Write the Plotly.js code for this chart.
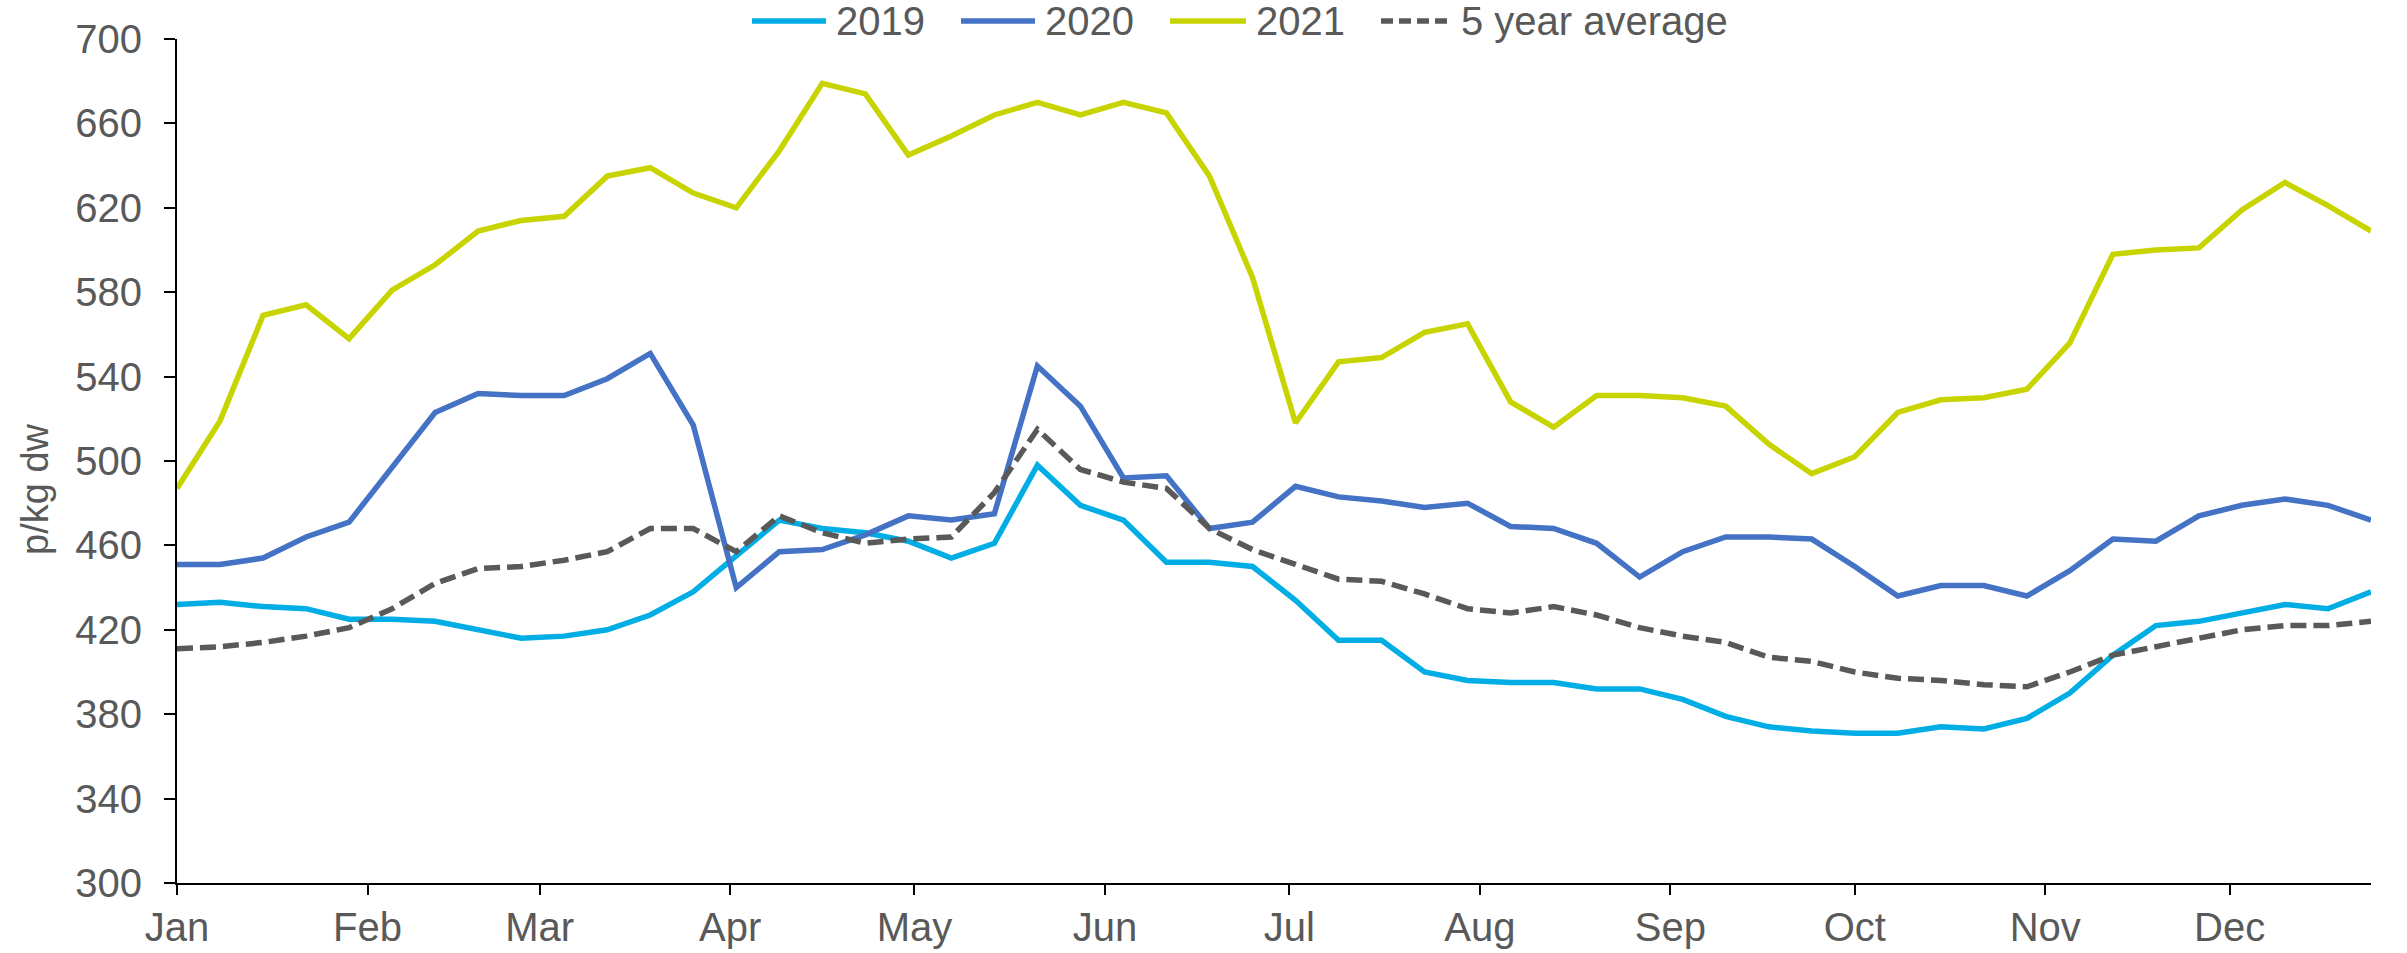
<!DOCTYPE html>
<html>
<head>
<meta charset="utf-8">
<script src="https://cdn.plot.ly/plotly-3.0.1.min.js"></script>
<style>
  html, body { margin: 0; padding: 0; background: #ffffff; }
  #chart { width: 2407px; height: 953px; }
</style>
</head>
<body>
<div id="chart"></div>
<script>
// Weekly dates (one common year used for the x axis)
const weeks = [
  "2021-01-01","2021-01-08","2021-01-15","2021-01-22","2021-01-29",
  "2021-02-05","2021-02-12","2021-02-19","2021-02-26",
  "2021-03-05","2021-03-12","2021-03-19","2021-03-26",
  "2021-04-02","2021-04-09","2021-04-16","2021-04-23","2021-04-30",
  "2021-05-07","2021-05-14","2021-05-21","2021-05-28",
  "2021-06-04","2021-06-11","2021-06-18","2021-06-25",
  "2021-07-02","2021-07-09","2021-07-16","2021-07-23","2021-07-30",
  "2021-08-06","2021-08-13","2021-08-20","2021-08-27",
  "2021-09-03","2021-09-10","2021-09-17","2021-09-24",
  "2021-10-01","2021-10-08","2021-10-15","2021-10-22","2021-10-29",
  "2021-11-05","2021-11-12","2021-11-19","2021-11-26",
  "2021-12-03","2021-12-10","2021-12-17","2021-12-24"
];

const series2019 = [432,433,431,430,425,425,424,420,416,417,420,427,438,455,472,468,466,462,454,461,498,479,472,452,452,450,434,415,415,400,396,395,395,392,392,387,379,374,372,371,371,374,373,378,390,408,422,424,428,432,430,438];
const series2020 = [451,451,454,464,471,497,523,532,531,531,539,551,517,440,457,458,465,474,472,475,545,526,492,493,468,471,488,483,481,478,480,469,468,461,445,457,464,464,463,450,436,441,441,436,448,463,462,474,479,482,479,472];
const series2021 = [487,519,569,574,558,581,593,609,614,616,635,639,627,620,647,679,674,645,654,664,670,664,670,665,635,587,518,547,549,561,565,528,516,531,531,530,526,508,494,502,523,529,530,534,556,598,600,601,619,632,621,609];
const avg5yr     = [411,412,414,417,421,430,442,449,450,453,457,468,468,457,474,466,461,463,464,485,515,496,490,487,468,458,451,444,443,437,430,428,431,427,421,417,414,407,405,400,397,396,394,393,400,408,412,416,420,422,422,424];

const seriesNames  = ["2019", "2020", "2021", "5 year average"];
const seriesColors = ["#00AEE5", "#4472C4", "#C8D400", "#595959"];

const monthTickVals = ["2021-01-01","2021-02-01","2021-03-01","2021-04-01","2021-05-01","2021-06-01","2021-07-01","2021-08-01","2021-09-01","2021-10-01","2021-11-01","2021-12-01"];
const monthTickText = ["Jan","Feb","Mar","Apr","May","Jun","Jul","Aug","Sep","Oct","Nov","Dec"];
const yTickVals = [300,340,380,420,460,500,540,580,620,660,700];

const FONT = "Liberation Sans, Arial, sans-serif";
const GREY = "#595959";
const LW = 5.5;
const AVG_DASH = "16px,7px";

const allSeries = [series2019, series2020, series2021, avg5yr];
const traces = allSeries.map((ys, k) => ({
  x: weeks, y: ys, name: seriesNames[k], mode: "lines",
  line: {color: seriesColors[k], width: LW, dash: k === 3 ? AVG_DASH : "solid"}
}));

// Legend drawn across the top (Excel style: long key lines)
const W = 2407, H = 953;
const M = {l: 177, r: 36, t: 39, b: 70};
const PW = W - M.l - M.r, PH = H - M.t - M.b;
const px2x = px => (px - M.l) / PW;
const py2y = py => (H - M.b - py) / PH;
const legendKeys = [   // [line start, line end, text start] in pixels
  [752, 826, 834],
  [961, 1035, 1043],
  [1170, 1246, 1254],
  [1381, 1451, 1459]
];
const legendY = 21;
const shapes = [], annotations = [];
legendKeys.forEach((k, i) => {
  shapes.push({
    type: "line", xref: "paper", yref: "paper",
    x0: px2x(k[0]), x1: px2x(k[1]), y0: py2y(legendY), y1: py2y(legendY),
    line: {color: seriesColors[i], width: LW, dash: i === 3 ? "12px,6px" : "solid"}
  });
  annotations.push({
    text: seriesNames[i], xref: "paper", yref: "paper",
    x: px2x(k[2]), y: py2y(legendY), xanchor: "left", yanchor: "middle",
    showarrow: false, font: {family: FONT, size: 40, color: GREY}
  });
});
annotations.push({
  text: "p/kg dw", textangle: -90,
  xref: "paper", yref: "paper",
  x: px2x(35), y: py2y(489), xanchor: "center", yanchor: "middle",
  showarrow: false,
  font: {family: FONT, size: 38, color: GREY}
});

const layout = {
  width: W, height: H,
  margin: {l: M.l, r: M.r, t: M.t, b: M.b, pad: 0},
  paper_bgcolor: "#ffffff", plot_bgcolor: "#ffffff",
  font: {family: FONT, size: 40, color: GREY},
  showlegend: false,
  xaxis: {
    type: "date", automargin: false,
    range: ["2021-01-01", "2021-12-24"],
    tickmode: "array", tickvals: monthTickVals, ticktext: monthTickText,
    ticks: "outside", ticklen: 10, tickwidth: 2, tickcolor: "#000000",
    showline: true, linecolor: "#000000", linewidth: 2,
    showgrid: false, zeroline: false,
    tickfont: {family: FONT, size: 40, color: GREY},
    ticklabelstandoff: -2
  },
  yaxis: {
    range: [300, 700], automargin: false,
    tickmode: "array", tickvals: yTickVals,
    ticks: "outside", ticklen: 11, tickwidth: 2, tickcolor: "#000000",
    showline: true, linecolor: "#000000", linewidth: 2,
    showgrid: false, zeroline: false,
    tickfont: {family: FONT, size: 40, color: GREY},
    ticklabelstandoff: 14
  },
  shapes: shapes,
  annotations: annotations
};

Plotly.newPlot("chart", traces, layout, {displayModeBar: false, staticPlot: true});
</script>
</body>
</html>
